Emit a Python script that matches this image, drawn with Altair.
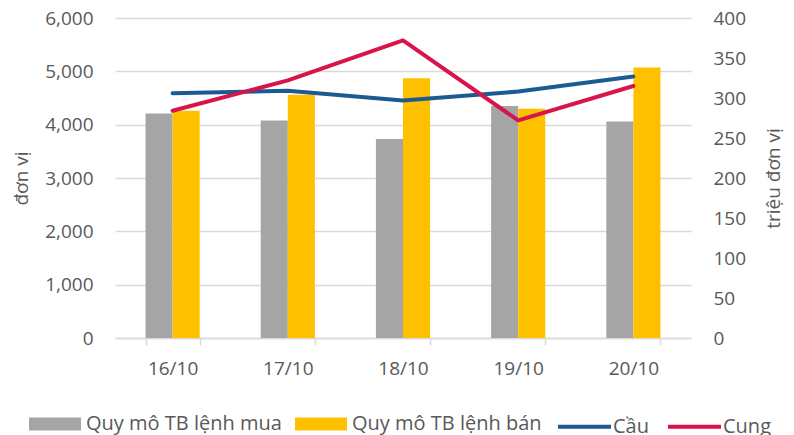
import altair as alt
import pandas as pd

dates = ["16/10", "17/10", "18/10", "19/10", "20/10"]
bar_series = ["Quy mô TB lệnh mua", "Quy mô TB lệnh bán"]
mua = [4210, 4080, 3730, 4350, 4060]
ban = [4260, 4560, 4870, 4300, 5070]
line_series = ["Cầu", "Cung"]
cau = [306, 309, 297, 308, 327]
cung = [284, 322, 372, 272, 315]

bar_colors = ["#A5A5A5", "#FFC000"]
line_colors = ["#1C5A92", "#D7144B"]

bars_df = pd.DataFrame(
    [{"date": d, "series": bar_series[0], "value": v} for d, v in zip(dates, mua)]
    + [{"date": d, "series": bar_series[1], "value": v} for d, v in zip(dates, ban)]
)
lines_df = pd.DataFrame(
    [{"date": d, "series": line_series[0], "value": v} for d, v in zip(dates, cau)]
    + [{"date": d, "series": line_series[1], "value": v} for d, v in zip(dates, cung)]
)

FONT = "Open Sans"
TXT = "#595959"
GRID = "#D9D9D9"
FS = 19
LFS = 20

xenc = alt.X(
    "date:N",
    sort=dates,
    scale=alt.Scale(paddingInner=0.53, paddingOuter=0.265),
    axis=alt.Axis(
        title=None, labelAngle=0, tickBand="extent", tickSize=7, tickColor=GRID,
        domainColor=GRID, domainWidth=1.5, tickWidth=1.5, labelPadding=14, labelFontSize=FS,
        labelColor=TXT, labelFont=FONT, grid=False,
    ),
)

bars = alt.Chart(bars_df).mark_bar().encode(
    x=xenc,
    xOffset=alt.XOffset("series:N", sort=bar_series, scale=alt.Scale(paddingInner=0, paddingOuter=0)),
    y=alt.Y(
        "value:Q",
        scale=alt.Scale(domain=[0, 6000], nice=False),
        axis=alt.Axis(
            title="đơn vị", values=[0, 1000, 2000, 3000, 4000, 5000, 6000], format=",.0f",
            grid=True, gridColor=GRID, gridWidth=1.5, domain=False, ticks=False,
            labelPadding=22, labelFontSize=FS, labelColor=TXT, labelFont=FONT,
            titleFontSize=FS, titleFont=FONT, titleColor=TXT, titleFontWeight="normal",
            titleAngle=270, titleX=-94, titleY=160, titleAlign="center", titleBaseline="middle",
        ),
    ),
    fill=alt.Fill(
        "series:N",
        sort=bar_series,
        scale=alt.Scale(domain=bar_series, range=bar_colors),
        legend=alt.Legend(
            title=None, orient="none", legendX=-86, legendY=380, direction="horizontal",
            symbolType="M-1,-0.25H1V0.25H-1Z", symbolSize=2704, symbolStrokeWidth=0,
            labelFontSize=LFS, labelColor=TXT, labelFont=FONT, labelOffset=5,
            columnPadding=13, labelLimit=400,
        ),
    ),
)

lines = alt.Chart(lines_df).mark_line(strokeWidth=4, strokeCap="round", strokeJoin="round").encode(
    x=alt.X("date:N", sort=dates),
    y=alt.Y(
        "value:Q",
        scale=alt.Scale(domain=[0, 400], nice=False),
        axis=alt.Axis(
            orient="right", title="triệu đơn vị", values=list(range(0, 401, 50)),
            grid=False, domain=False, ticks=False, labelPadding=22, labelFontSize=FS,
            labelColor=TXT, labelFont=FONT, titleFontSize=FS, titleFont=FONT,
            titleColor=TXT, titleFontWeight="normal", titleAngle=270,
            titleX=82, titleY=160, titleAlign="center", titleBaseline="middle",
        ),
    ),
    stroke=alt.Stroke(
        "series:N",
        sort=line_series,
        scale=alt.Scale(domain=line_series, range=line_colors),
        legend=alt.Legend(
            title=None, orient="none", legendX=441, legendY=380, direction="horizontal",
            symbolType="stroke", symbolSize=2809, symbolStrokeWidth=4,
            labelFontSize=LFS, labelColor=TXT, labelFont=FONT, labelOffset=0,
            columnPadding=11, labelLimit=400,
        ),
    ),
    order=alt.Order("series:N"),
)

chart = (
    alt.layer(bars, lines)
    .resolve_scale(y="independent", x="shared")
    .properties(
        width=576,
        height=320,
        autosize=alt.AutoSizeParams(type="none"),
        padding={"left": 107, "top": 10, "right": 95, "bottom": 99},
        background="white",
    )
    .configure_view(stroke=None)
)

chart.save("out.html", embed_options={"renderer": "svg", "actions": False})
